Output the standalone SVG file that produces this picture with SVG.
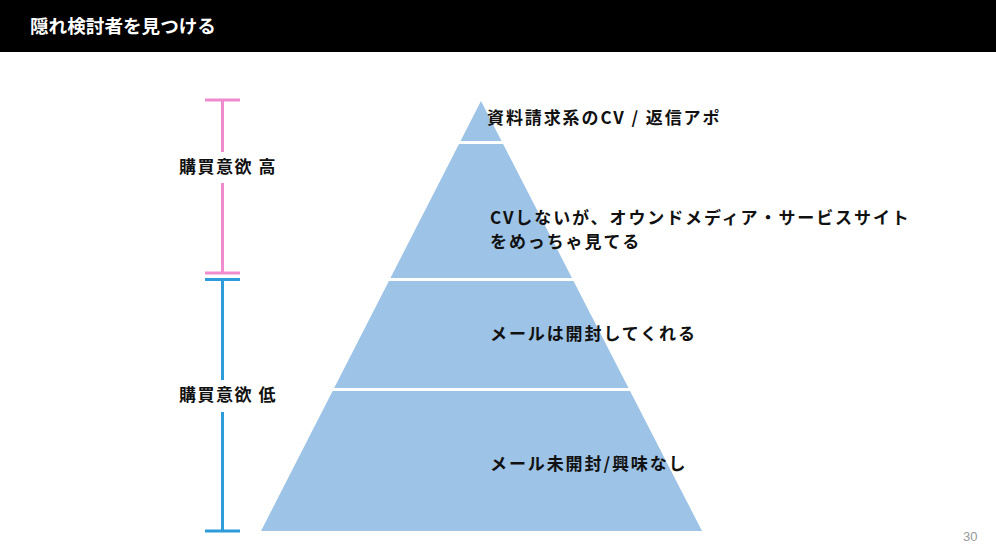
<svg xmlns="http://www.w3.org/2000/svg" width="996" height="560" viewBox="0 0 996 560">
<style>
.t{font-family:"Noto Sans CJK JP","Noto Sans",sans-serif;font-weight:bold;fill:#111;font-size:17px;letter-spacing:1.9px}
.side{font-family:"Noto Sans CJK JP","Noto Sans",sans-serif;font-weight:bold;fill:#111;font-size:17px;letter-spacing:1.5px;text-anchor:middle}
.sep{stroke:#fff;stroke-width:3}
.pk{stroke:#F08BD0;stroke-width:3;fill:none}
.bl{stroke:#2E9BDB;stroke-width:3;fill:none}
</style>
<rect x="0" y="0" width="996" height="560" fill="#fff"/>
<g id="header">
<rect x="0" y="0" width="996" height="52" fill="#000"/>
<text x="30" y="33" font-family="Noto Sans CJK JP, sans-serif" font-weight="bold" font-size="18.6" fill="#fff">隠れ検討者を見つける</text>
</g>
<g id="pyramid">
<polygon points="481,101 702,531 261,531" fill="#9DC3E6"/>
</g>
<g id="connectors">
<line class="sep" x1="440" y1="142.5" x2="520" y2="142.5"/>
<line class="sep" x1="370" y1="279.5" x2="590" y2="279.5"/>
<line class="sep" x1="310" y1="389.5" x2="650" y2="389.5"/>
<line class="pk" x1="205" y1="100" x2="240" y2="100"/>
<line class="pk" x1="222.5" y1="100" x2="222.5" y2="152"/>
<line class="pk" x1="222.5" y1="183" x2="222.5" y2="273"/>
<line class="pk" x1="205" y1="273" x2="240" y2="273"/>
<line class="bl" x1="205" y1="279.5" x2="240" y2="279.5"/>
<line class="bl" x1="222.5" y1="279.5" x2="222.5" y2="380"/>
<line class="bl" x1="222.5" y1="412" x2="222.5" y2="531"/>
<line class="bl" x1="205" y1="531" x2="240" y2="531"/>
</g>
<g id="label-high"><text class="side" x="228" y="173">購買意欲 高</text></g>
<g id="label-low"><text class="side" x="228" y="401">購買意欲 低</text></g>
<g id="tier1"><text class="t" x="487" y="124">資料請求系のCV / 返信アポ</text></g>
<g id="tier2"><text class="t" x="490" y="224">CVしないが、オウンドメディア・サービスサイト</text><text class="t" x="490" y="248">をめっちゃ見てる</text></g>
<g id="tier3"><text class="t" x="490" y="340">メールは開封してくれる</text></g>
<g id="tier4"><text class="t" x="490" y="470">メール未開封/興味なし</text></g>
<g id="page"><text x="963" y="541" font-family="Liberation Sans, sans-serif" font-size="13" fill="#999">30</text></g>
</svg>
